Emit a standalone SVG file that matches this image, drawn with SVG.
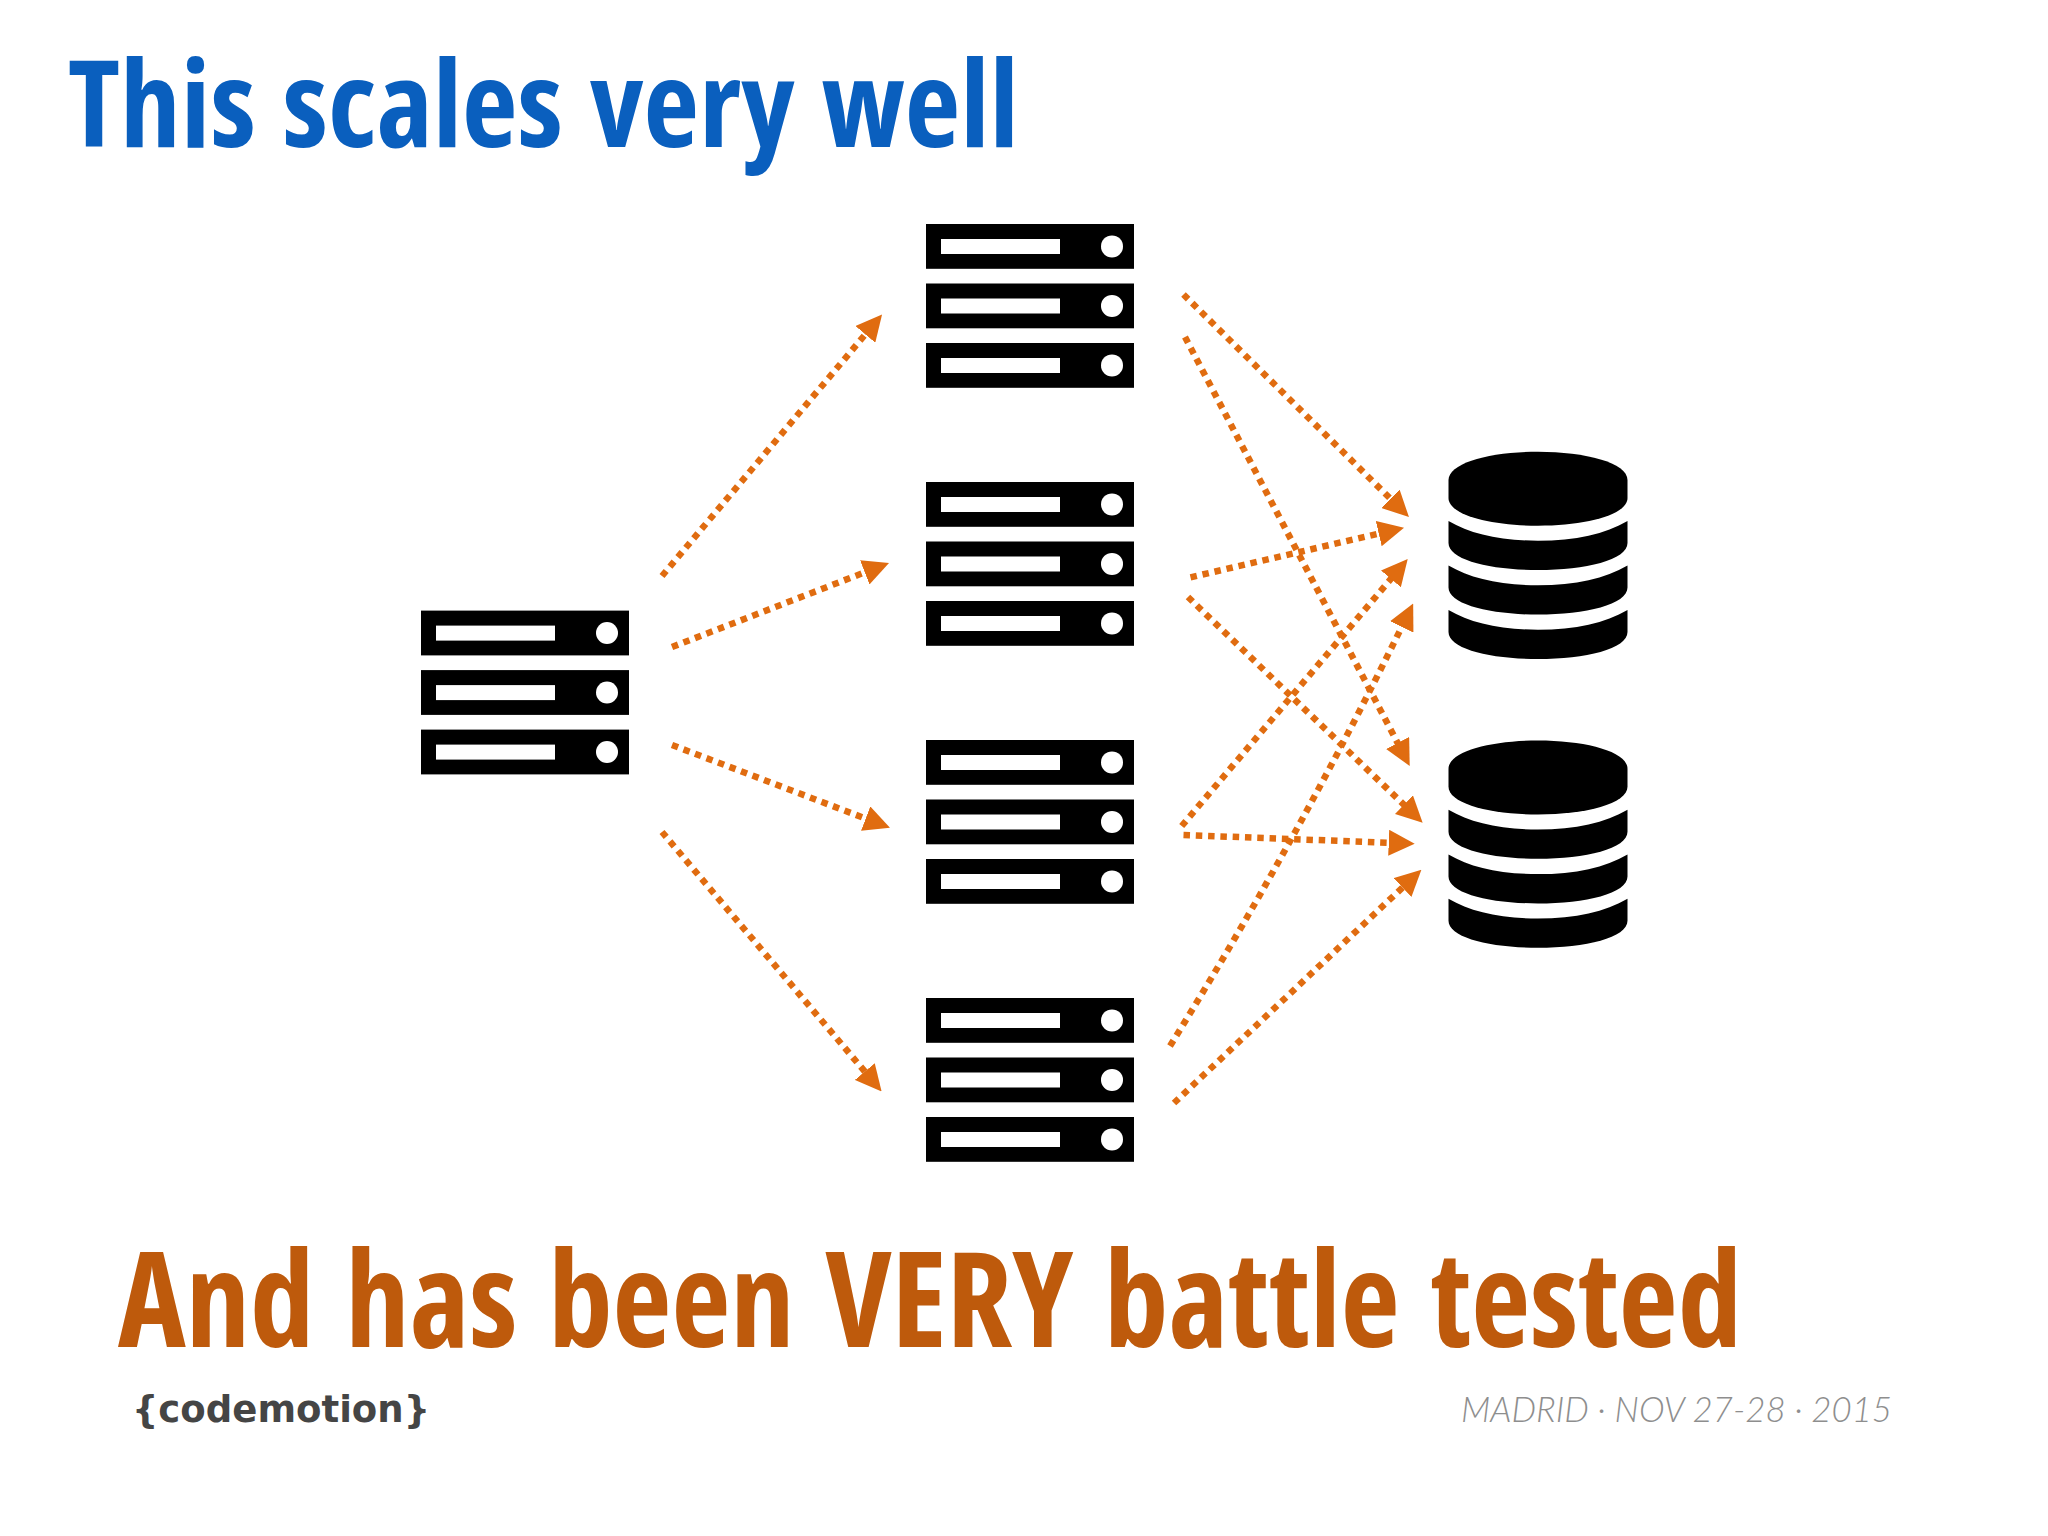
<svg xmlns="http://www.w3.org/2000/svg" xmlns:xlink="http://www.w3.org/1999/xlink" width="2048" height="1536" viewBox="0 0 2048 1536">
<style>
.t{font-family:"Open Sans","Liberation Sans",sans-serif;font-weight:700;font-stretch:75%}
.c{fill:none;stroke:#e06c10;stroke-width:6.5;stroke-dasharray:6.5 5.8;marker-end:url(#h)}
.w{fill:#fff}
</style>
<defs>
<marker id="h" markerUnits="userSpaceOnUse" markerWidth="26" markerHeight="26" refX="4" refY="13" orient="auto"><path d="M0,0L26,13L0,26Z" fill="#e06c10"/></marker>
<g id="server">
<rect x="0" y="0" width="208" height="44.8"/><rect class="w" x="15" y="15" width="119" height="15"/><circle class="w" cx="186" cy="22.4" r="11"/>
<rect x="0" y="59.5" width="208" height="44.8"/><rect class="w" x="15" y="74.5" width="119" height="15"/><circle class="w" cx="186" cy="81.9" r="11"/>
<rect x="0" y="119" width="208" height="44.8"/><rect class="w" x="15" y="134" width="119" height="15"/><circle class="w" cx="186" cy="141.4" r="11"/>
</g>
<g id="db">
<path d="M0,28.3C0,11 42,0 89.5,0S179,11 179,28.3V46.3C179,63.3 137,74 89.5,74S0,63.3 0,46.3Z"/>
<path id="band" d="M0,69.3C22,82.3 52,89 89.5,89S157,82.3 179,69.3V91.3C179,108.3 137,118.3 89.5,118.3S0,108.3 0,91.3Z"/>
<use xlink:href="#band" href="#band" y="44.6"/>
<use xlink:href="#band" href="#band" y="89"/>
</g>
</defs>
<rect width="2048" height="1536" fill="#fff"/>
<text id="title" class="t" x="68" y="147" font-size="120" fill="#0a5fbe" word-spacing="5" textLength="951" lengthAdjust="spacingAndGlyphs">This scales very well</text>
<g id="connectors">
<path class="c" d="M662,576L867.9,331.3"/>
<path class="c" d="M672,647L868.5,570.9"/>
<path class="c" d="M672,745L869.4,820"/>
<path class="c" d="M662,832L867.4,1074.6"/>
<path class="c" d="M1183.5,294.5L1393.3,501.6"/>
<path class="c" d="M1185,337L1399.5,746.5"/>
<path class="c" d="M1190.5,577.3L1382.6,532.7"/>
<path class="c" d="M1188,597L1406.8,807.5"/>
<path class="c" d="M1181.7,826L1393.5,575.8"/>
<path class="c" d="M1183.5,835L1392.7,842.9"/>
<path class="c" d="M1170,1046Q1297,841 1403.5,623.3"/>
<path class="c" d="M1174,1103L1405.4,884.8"/>
</g>
<g id="client"><use xlink:href="#server" href="#server" x="421" y="610.6"/></g>
<g id="server-1"><use xlink:href="#server" href="#server" x="926" y="224"/></g>
<g id="server-2"><use xlink:href="#server" href="#server" x="926" y="482"/></g>
<g id="server-3"><use xlink:href="#server" href="#server" x="926" y="740"/></g>
<g id="server-4"><use xlink:href="#server" href="#server" x="926" y="998"/></g>
<g id="db-1"><use xlink:href="#db" href="#db" x="1448.5" y="451.7"/></g>
<g id="db-2"><use xlink:href="#db" href="#db" x="1448.5" y="740.5"/></g>
<text id="subtitle" class="t" x="118" y="1347" font-size="133" fill="#be5a0c" word-spacing="8" textLength="1624" lengthAdjust="spacingAndGlyphs">And has been VERY battle tested</text>
<text id="logo" x="132" y="1422" font-family="'DejaVu Sans',sans-serif" font-size="38" font-weight="700" fill="#454545" textLength="298" lengthAdjust="spacingAndGlyphs">{codemotion}</text>
<text id="date" x="1461" y="1422" font-family="Lato,'Liberation Sans',sans-serif" font-size="36" font-weight="300" font-style="italic" fill="#8e8e8e" textLength="431" lengthAdjust="spacingAndGlyphs">MADRID · NOV 27-28 · 2015</text>
</svg>
